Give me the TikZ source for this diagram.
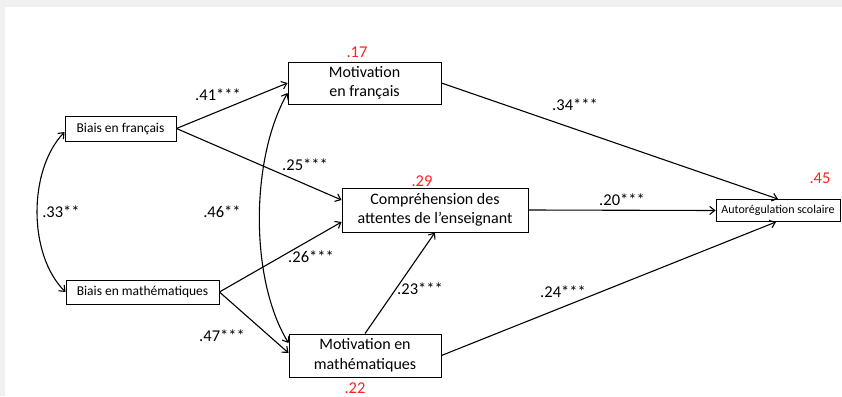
\documentclass[tikz,border=0pt]{standalone}
\usepackage{fontspec}
\setmainfont{Carlito}
\usetikzlibrary{arrows.meta,calc}
\definecolor{pagegrey}{HTML}{F0F0F0}
\definecolor{coefred}{HTML}{FF2020}
\tikzset{
  box/.style={draw=black, line width=0.9pt, fill=white, inner sep=0pt, align=center, text=black},
  bigbox/.style={box, font=\fontsize{16}{19.5}\selectfont},
  smallbox/.style={box, font=\fontsize{13.5}{16}\selectfont},
  tinybox/.style={box, font=\fontsize{12}{14}\selectfont},
  coef/.style={font=\fontsize{16.5}{18}\selectfont, text=black, inner sep=0pt},
  rsq/.style={font=\fontsize{16.5}{18}\selectfont, text=coefred, inner sep=0pt},
  path/.style={draw=black, line width=1.1pt, -{Straight Barb[length=5pt,width=8pt]}},
  covpath/.style={draw=black, line width=1.1pt, {Straight Barb[length=5pt,width=8pt]}-{Straight Barb[length=5pt,width=8pt]}}
}
\begin{document}
\begin{tikzpicture}[x=1pt,y=-1pt]
\useasboundingbox (0,0) rectangle (842,396);
\fill[pagegrey] (0,0) rectangle (842,396);
\fill[white] (5,7) rectangle (842,396);

% boxes
\node[smallbox, minimum width=111pt, minimum height=25pt] (bf) at (120.5,128.5) {Biais en français};
\node[smallbox, minimum width=153pt, minimum height=24pt] (bm) at (142.5,292) {Biais en mathématiques};
\node[bigbox, minimum width=153pt, minimum height=42pt] (mf) at (364.5,83) {Motivation\\en français};
\node[bigbox, minimum width=186pt, minimum height=44pt] (comp) at (435,210) {Compréhension des\\attentes de l’enseignant};
\node[tinybox, minimum width=124pt, minimum height=22pt] (ar) at (778,210.5) {Autorégulation scolaire};
\node[bigbox, minimum width=152pt, minimum height=43pt] (mm) at (365,355.5) {Motivation en\\mathématiques};

% anchor points
\coordinate (bfcov) at ($(bf.west)+(0,3.5)$);
\coordinate (mfcov) at ($(mf.west)+(0,10)$);
\coordinate (mmcov) at ($(mm.west)+(0,-12.5)$);
\coordinate (mmin) at ($(mm.west)+(0,-2.5)$);
\coordinate (compA) at ($(comp.west)+(0,-10)$);
\coordinate (compB) at ($(comp.west)+(0,12)$);
\coordinate (arS) at ($(ar.south)+(-2,0)$);

% paths
\draw[path] (bf.east) -- (mf.west);
\draw[path] (bf.east) -- (compA);
\draw[path] (bm.east) -- (compB);
\draw[path] (bm.east) -- (mmin);
\draw[path] (mf.east) -- (ar.north);
\draw[path] (comp.east) -- (ar.west);
\draw[path] (mm.east) -- (arS);
\draw[path] (mm.north) -- (comp.south);
\draw[covpath] (bfcov) .. controls (28,170) and (28,255) .. (bm.west);
\draw[covpath] (mfcov) .. controls (250,160) and (250,280) .. (mmcov);

% coefficients
\node[coef] (c41) at (218,95) {.41***};
\node[coef] (c25) at (305,165) {.25***};
\node[coef] (c34) at (575,105) {.34***};
\node[coef] (c20) at (622,200) {.20***};
\node[coef] (c33) at (61,212) {.33**};
\node[coef] (c46) at (222,212) {.46**};
\node[coef] (c26) at (311,257) {.26***};
\node[coef] (c23) at (420,289) {.23***};
\node[coef] (c24) at (563,292) {.24***};
\node[coef] (c47) at (222,336) {.47***};

% R squared
\node[rsq] (r17) at (357,52) {.17};
\node[rsq] (r29) at (422,181) {.29};
\node[rsq] (r45) at (820,178) {.45};
\node[rsq] (r22) at (355,388) {.22};
\end{tikzpicture}
\end{document}
